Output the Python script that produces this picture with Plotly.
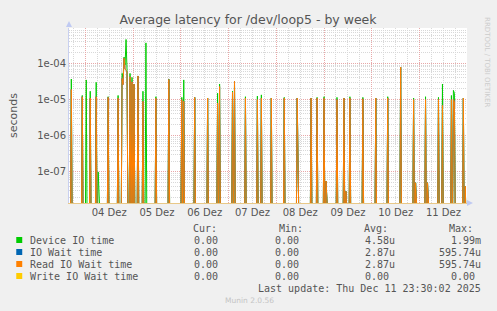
import numpy as np
import pandas as pd
import plotly.graph_objects as go

# ---------------- data ----------------
sample_start = "2025-12-03 15:30"
sample_end = "2025-12-11 23:30"
view_start = "2025-12-03 15:50"
view_end = "2025-12-11 23:50"

spike_times = [
    "2025-12-03 17:00", "2025-12-03 22:30", "2025-12-04 00:30", "2025-12-04 02:30",
    "2025-12-04 05:30", "2025-12-04 06:30", "2025-12-04 11:30", "2025-12-04 16:30",
    "2025-12-04 18:30", "2025-12-04 19:00", "2025-12-04 19:30", "2025-12-04 20:00",
    "2025-12-04 20:30", "2025-12-04 21:00", "2025-12-04 22:30", "2025-12-04 23:30",
    "2025-12-05 00:30", "2025-12-05 02:30", "2025-12-05 05:00", "2025-12-05 06:30",
    "2025-12-05 11:30", "2025-12-05 18:00", "2025-12-06 00:30", "2025-12-06 01:30",
    "2025-12-06 07:00", "2025-12-06 13:30", "2025-12-06 18:30", "2025-12-06 19:30",
    "2025-12-07 02:00", "2025-12-07 03:00", "2025-12-07 08:30", "2025-12-07 14:30",
    "2025-12-07 16:30", "2025-12-07 21:30", "2025-12-08 04:00", "2025-12-08 10:30",
    "2025-12-08 11:00", "2025-12-08 17:30", "2025-12-08 20:30", "2025-12-09 00:00",
    "2025-12-09 01:00", "2025-12-09 06:30", "2025-12-09 10:00", "2025-12-09 11:00",
    "2025-12-09 13:00", "2025-12-09 19:30", "2025-12-10 02:00", "2025-12-10 08:00",
    "2025-12-10 14:30", "2025-12-10 21:00", "2025-12-10 22:00", "2025-12-11 03:00",
    "2025-12-11 04:00", "2025-12-11 09:30", "2025-12-11 11:30", "2025-12-11 16:00",
    "2025-12-11 17:00", "2025-12-11 17:30", "2025-12-11 22:00", "2025-12-11 23:00",
]

device_io_time = [
    3.7e-5, 1.3e-5, 3.5e-5, 1.7e-5,
    3.0e-5, 1.0e-7, 1.2e-5, 1.3e-5,
    5.3e-5, 4.0e-5, 1.5e-4, 9.0e-5,
    4.6e-4, 6.5e-5, 5.3e-5, 4.1e-5,
    2.7e-5, 4.5e-5, 1.7e-5, 3.7e-4,
    1.2e-5, 3.7e-5, 1.15e-5, 3.5e-5,
    1.15e-5, 1.1e-5, 1.5e-5, 2.7e-5,
    1.7e-5, 3.2e-5, 1.2e-5, 1.25e-5,
    1.35e-5, 1.1e-5, 1.15e-5, 1.1e-5,
    3.6e-8, 1.1e-5, 1.15e-5, 1.2e-5,
    5.6e-8, 1.15e-5, 1.1e-5, 2.9e-8,
    1.2e-5, 1.15e-5, 1.1e-5, 1.2e-5,
    7.9e-5, 1.1e-5, 5.0e-8, 1.2e-5,
    5.0e-8, 1.15e-5, 2.7e-5, 1.3e-5,
    1.8e-5, 1.5e-5, 1.1e-5, 4.0e-8,
]

read_io_wait = [
    1.9e-5, 1.2e-5, 0.0, 1.1e-5,
    1.2e-5, 0.0, 1.15e-5, 1.1e-5,
    3.8e-5, 2.6e-5, 1.4e-4, 7.0e-5,
    6.5e-5, 5.8e-5, 4.3e-5, 3.1e-5,
    2.7e-5, 4.5e-5, 9.0e-6, 0.0,
    1.1e-5, 3.6e-5, 1.0e-5, 9.0e-6,
    1.15e-5, 1.1e-5, 8.0e-6, 2.3e-5,
    1.6e-5, 3.2e-5, 1.1e-5, 1.0e-5,
    1.1e-5, 1.1e-5, 1.1e-5, 1.1e-5,
    3.6e-8, 1.1e-5, 1.1e-5, 1.1e-5,
    5.6e-8, 1.0e-5, 1.1e-5, 2.9e-8,
    1.1e-5, 1.05e-5, 1.1e-5, 1.1e-5,
    7.9e-5, 1.0e-5, 5.0e-8, 1.0e-5,
    5.0e-8, 1.0e-5, 6.9e-6, 1.0e-5,
    1.0e-5, 9.0e-6, 1.1e-5, 4.0e-8,
]

io_wait_time = list(read_io_wait)
write_io_wait = [0.0] * len(spike_times)

series_names = ["Device IO time", "IO Wait time", "Read IO Wait time", "Write IO Wait time"]
series_colors = ["#00cc00", "#0066b3", "#ff8000", "#ffcc00"]
legend_cur = ["0.00", "0.00", "0.00", "0.00"]
legend_min = ["0.00", "0.00", "0.00", "0.00"]
legend_avg = ["4.58u", "2.87u", "2.87u", "0.00"]
legend_max = ["1.99m", "595.74u", "595.74u", "0.00"]

ytick_vals = [1e-7, 1e-6, 1e-5, 1e-4]
ytick_text = ["1e-07", "1e-06", "1e-05", "1e-04"]

# ---------------- build dense 30-min series ----------------
grid = pd.date_range(sample_start, sample_end, freq="30min")
FLOOR = 1e-9  # zero values drawn below the visible log range


def dense(values):
    s = pd.Series(0.0, index=grid)
    s.loc[pd.to_datetime(spike_times)] = values
    v = s.values
    return np.where(v > 0, v, FLOOR)


all_series = [device_io_time, io_wait_time, read_io_wait, write_io_wait]

fig = go.Figure()
for name, col, vals in zip(series_names, series_colors, all_series):
    fig.add_trace(go.Scatter(x=grid, y=dense(vals), mode="lines", name=name,
                             line=dict(color=col, width=1), showlegend=False,
                             hoverinfo="skip"))

# ---------------- layout ----------------
W, H = 497, 311
L, R, T, B = 67, 467, 28, 203


def px(xp):
    return (xp - L) / (R - L)


def py(yp):
    return (B - yp) / (B - T)


minor_y = [k * 10.0 ** d for d in range(-8, -2) for k in range(2, 10)]

fig.update_layout(
    width=W, height=H,
    margin=dict(l=L, r=W - R, t=T, b=H - B),
    paper_bgcolor="#f0f0f0", plot_bgcolor="#ffffff",
    font=dict(family="DejaVu Sans", size=10, color="#555555"),
    title=dict(text="Average latency for /dev/loop5 - by week", x=248 / W, xanchor="center",
               xref="container", y=1 - 20 / H, yanchor="middle",
               font=dict(size=12.5, color="#555555")),
)

fig.update_xaxes(
    type="date", range=[view_start, view_end],
    tick0="2025-12-04", dtick=86400000, ticklabelmode="period", tickformat="%d Dez",
    showgrid=True, gridcolor="#e8a8a8", griddash="1px,1px", gridwidth=1,
    minor=dict(dtick=21600000, showgrid=True, gridcolor="#d8d8d8", griddash="1px,1px"),
    showline=True, linecolor="#e8c888", linewidth=1, ticks="", zeroline=False,
    tickfont=dict(size=10, color="#555555"),
)
fig.update_yaxes(
    type="log", range=[-7.86, -3.02],
    tickmode="array", tickvals=ytick_vals, ticktext=ytick_text,
    showgrid=True, gridcolor="#e8a8a8", griddash="1px,1px", gridwidth=1,
    minor=dict(tickvals=minor_y, showgrid=True, gridcolor="#d8d8d8", griddash="1px,1px"),
    showline=True, linecolor="#c8d0f0", linewidth=1, ticks="", zeroline=False,
    tickfont=dict(size=10, color="#555555"),
    title=dict(text="seconds", font=dict(size=11, color="#555555"), standoff=17),
)

ann = []
shapes = []
# RRDTOOL credit
ann.append(dict(text="RRDTOOL / TOBI OETIKER", x=px(487), y=py(15), xref="paper", yref="paper",
                textangle=90, xanchor="center", yanchor="top", showarrow=False,
                font=dict(size=7, color="#cccccc")))
# axis arrows
shapes.append(dict(type="path", xref="paper", yref="paper", fillcolor="#c0caf2", line=dict(width=0),
                   path=f"M {px(64)} {py(27)} L {px(70)} {py(27)} L {px(67)} {py(21)} Z"))
shapes.append(dict(type="path", xref="paper", yref="paper", fillcolor="#c0caf2", line=dict(width=0),
                   path=f"M {px(467)} {py(200)} L {px(467)} {py(206)} L {px(473)} {py(203)} Z"))

mono = dict(family="DejaVu Sans Mono", size=10, color="#555555")
headers = ["Cur:", "Min:", "Avg:", "Max:"]
header_x = [190, 276, 361, 447]
for h, hx in zip(headers, header_x):
    ann.append(dict(text=h, x=px(hx), y=py(228), xref="paper", yref="paper", xanchor="left",
                    yanchor="middle", showarrow=False, font=mono))

row_y = [240, 252, 264, 276]
col_right = [219, 306, 397, 483]
for i in range(4):
    yy = row_y[i]
    shapes.append(dict(type="rect", xref="paper", yref="paper", x0=px(14), x1=px(20),
                       y0=py(yy + 3), y1=py(yy - 3), fillcolor=series_colors[i], line=dict(width=0)))
    ann.append(dict(text=series_names[i], x=px(26), y=py(yy), xref="paper", yref="paper",
                    xanchor="left", yanchor="middle", showarrow=False, font=mono))
    for vals, cx in zip([legend_cur, legend_min, legend_avg, legend_max], col_right):
        v = vals[i]
        has_unit = v[-1].isalpha()
        shift = 0 if (has_unit or cx < 300) else 6
        ann.append(dict(text=v, x=px(cx - shift), y=py(yy), xref="paper", yref="paper",
                        xanchor="right", yanchor="middle", showarrow=False, font=mono))

ann.append(dict(text="Last update: Thu Dec 11 23:30:02 2025", x=px(483), y=py(288), xref="paper",
                yref="paper", xanchor="right", yanchor="middle", showarrow=False, font=mono))
ann.append(dict(text="Munin 2.0.56", x=px(248), y=py(300), xref="paper", yref="paper",
                xanchor="center", yanchor="middle", showarrow=False,
                font=dict(family="DejaVu Sans", size=7.5, color="#c4c4c4")))

fig.update_layout(annotations=ann, shapes=shapes)
fig.write_html("out.html")
